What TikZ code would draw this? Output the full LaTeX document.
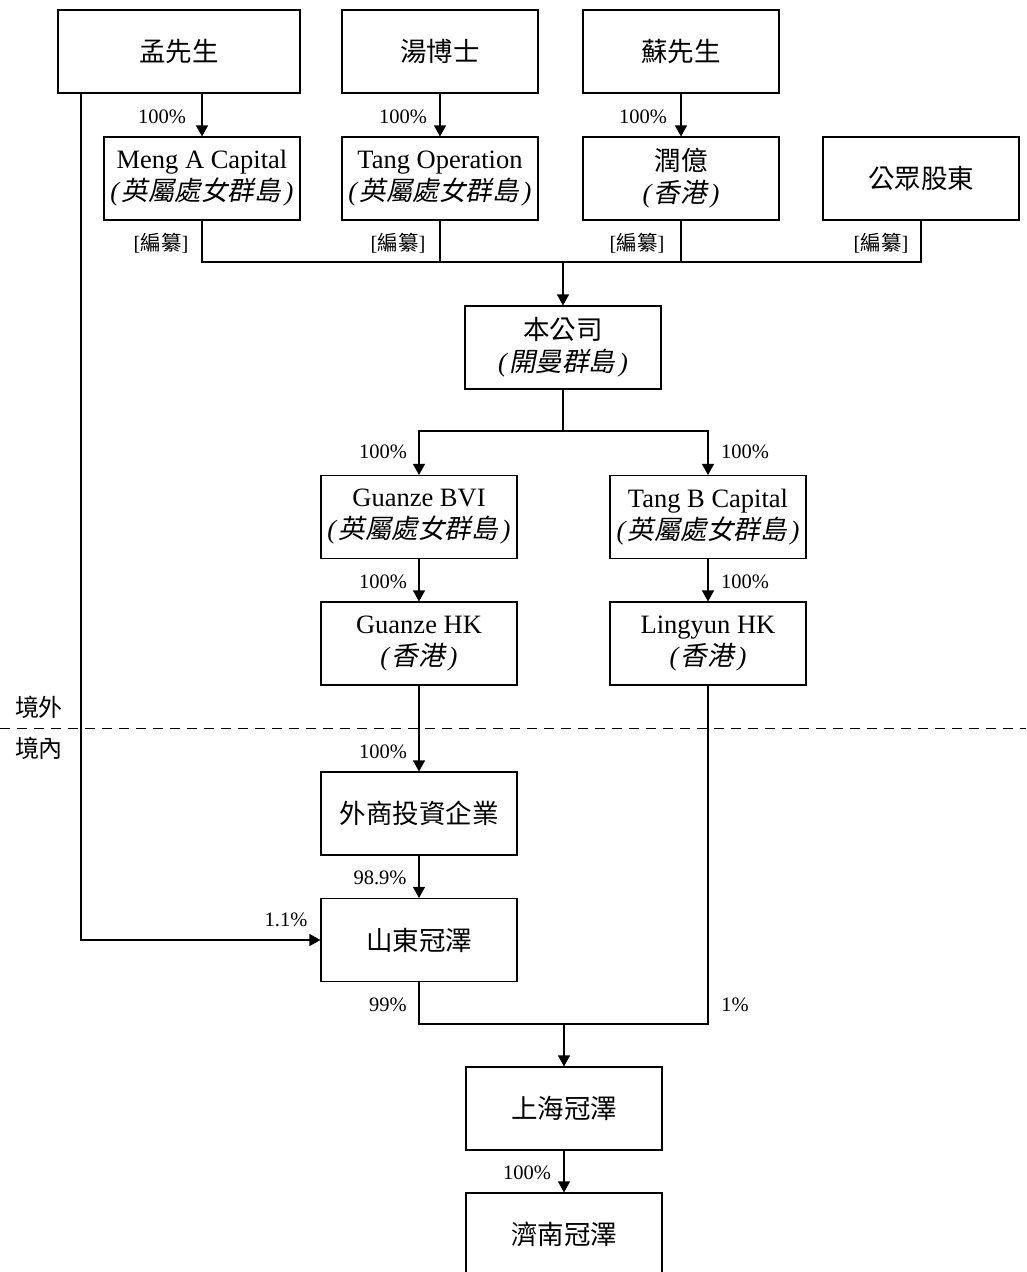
\documentclass[tikz,border=0pt]{standalone}
\usepackage{fontspec}
\setmainfont{Liberation Serif}
\newfontfamily\cjk{Noto Sans CJK TC}
\newfontfamily\cjkit[FakeSlant=0.2]{Noto Sans CJK TC}
\usetikzlibrary{arrows.meta}
\newcommand{\ital}[1]{\textit{(}\kern1pt{\cjkit #1}\kern4pt\textit{)}}
\begin{document}
\begin{tikzpicture}[x=1pt,y=-1pt,
  line width=1.1pt,
  box/.style={draw, line width=1.1pt, minimum width=196pt, minimum height=83pt, inner sep=0pt, align=center, font=\fontsize{26.5}{32}\selectfont},
  lab/.style={inner sep=0pt, font=\fontsize{20.5}{24}\selectfont},
  arr/.style={-{Triangle[width=12pt,length=11pt]}},
]
\useasboundingbox (0,0) rectangle (1026,1272);
\clip (0,0) rectangle (1026,1272);
% boxes
\node[box, minimum width=242pt] (mr) at (179,51.5) {\cjk 孟先生};
\node[box] (tang) at (440,51.5) {\cjk 湯博士};
\node[box] (su) at (681,51.5) {\cjk 蘇先生};
\node[box] (mengA) at (202,178.5) {Meng A Capital\\\ital{英屬處女群島}};
\node[box] (tangop) at (440,178.5) {Tang Operation\\\ital{英屬處女群島}};
\node[box] (runyi) at (681,178.5) {{\cjk 潤億}\\\ital{香港}};
\node[box] (gz) at (921,178.5) {\cjk 公眾股東};
\node[box] (ben) at (563,347.5) {{\cjk 本公司}\\\ital{開曼群島}};
\node[box] (gbvi) at (419,517) {Guanze BVI\\\ital{英屬處女群島}};
\node[box] (tangb) at (708,517) {Tang B Capital\\\ital{英屬處女群島}};
\node[box] (ghk) at (419,643.5) {Guanze HK\\\ital{香港}};
\node[box] (lhk) at (708,643.5) {Lingyun HK\\\ital{香港}};
\node[box] (wfie) at (419,813.5) {\cjk 外商投資企業};
\node[box] (sd) at (419,940) {\cjk 山東冠澤};
\node[box] (sh) at (564,1108.5) {\cjk 上海冠澤};
\node[box] (jn) at (564,1234.5) {\cjk 濟南冠澤};
% coordinates
\coordinate (bus) at (563,262);
\coordinate (split) at (563,431);
\coordinate (mrl) at (81,0);
\coordinate (join) at (564,1024);
\coordinate (dl) at (0,728);
\coordinate (dr) at (1026,728);
% connectors
\draw[arr] (mengA.north |- mr.south) -- (mengA.north);
\draw[arr] (tang.south) -- (tangop.north);
\draw[arr] (su.south) -- (runyi.north);
\draw (mengA.south) |- (bus) -| (gz.south);
\draw (tangop.south) -- (tangop.south |- bus);
\draw (runyi.south) -- (runyi.south |- bus);
\draw[arr] (bus) -- (ben.north);
\draw (ben.south) -- (split);
\draw[arr] (split) -| (gbvi.north);
\draw[arr] (split) -| (tangb.north);
\draw[arr] (gbvi.south) -- (ghk.north);
\draw[arr] (tangb.south) -- (lhk.north);
\draw[arr] (ghk.south) -- (wfie.north);
\draw[arr] (wfie.south) -- (sd.north);
\draw[arr] (mr.south -| mrl) |- (sd.west);
\draw (sd.south) |- (join);
\draw (lhk.south) |- (join);
\draw[arr] (join) -- (sh.north);
\draw[arr] (sh.south) -- (jn.north);
\draw[line width=1pt, dash pattern=on 10pt off 7pt] (dl) -- (dr);
% labels
\node[lab] (l1) at (162,117) {100\%};
\node[lab] (l2) at (403,117) {100\%};
\node[lab] (l3) at (643,117) {100\%};
\node[lab] (b1) at (161,243) {[{\cjk 編纂}]};
\node[lab] (b2) at (398,243) {[{\cjk 編纂}]};
\node[lab] (b3) at (637,243) {[{\cjk 編纂}]};
\node[lab] (b4) at (881,243) {[{\cjk 編纂}]};
\node[lab] (l4) at (383,452) {100\%};
\node[lab] (l5) at (745,452) {100\%};
\node[lab] (l6) at (383,582) {100\%};
\node[lab] (l7) at (745,582) {100\%};
\node[lab] (l8) at (383,752) {100\%};
\node[lab] (l9) at (380,878) {98.9\%};
\node[lab] (l10) at (286,920) {1.1\%};
\node[lab] (l11) at (388,1005) {99\%};
\node[lab] (l12) at (735,1005) {1\%};
\node[lab] (l13) at (527,1173) {100\%};
\node[lab, font=\fontsize{24}{28}\selectfont\cjk] (jw) at (39,707) {境外};
\node[lab, font=\fontsize{24}{28}\selectfont\cjk] (jn2) at (39,748) {境內};
\end{tikzpicture}
\end{document}
